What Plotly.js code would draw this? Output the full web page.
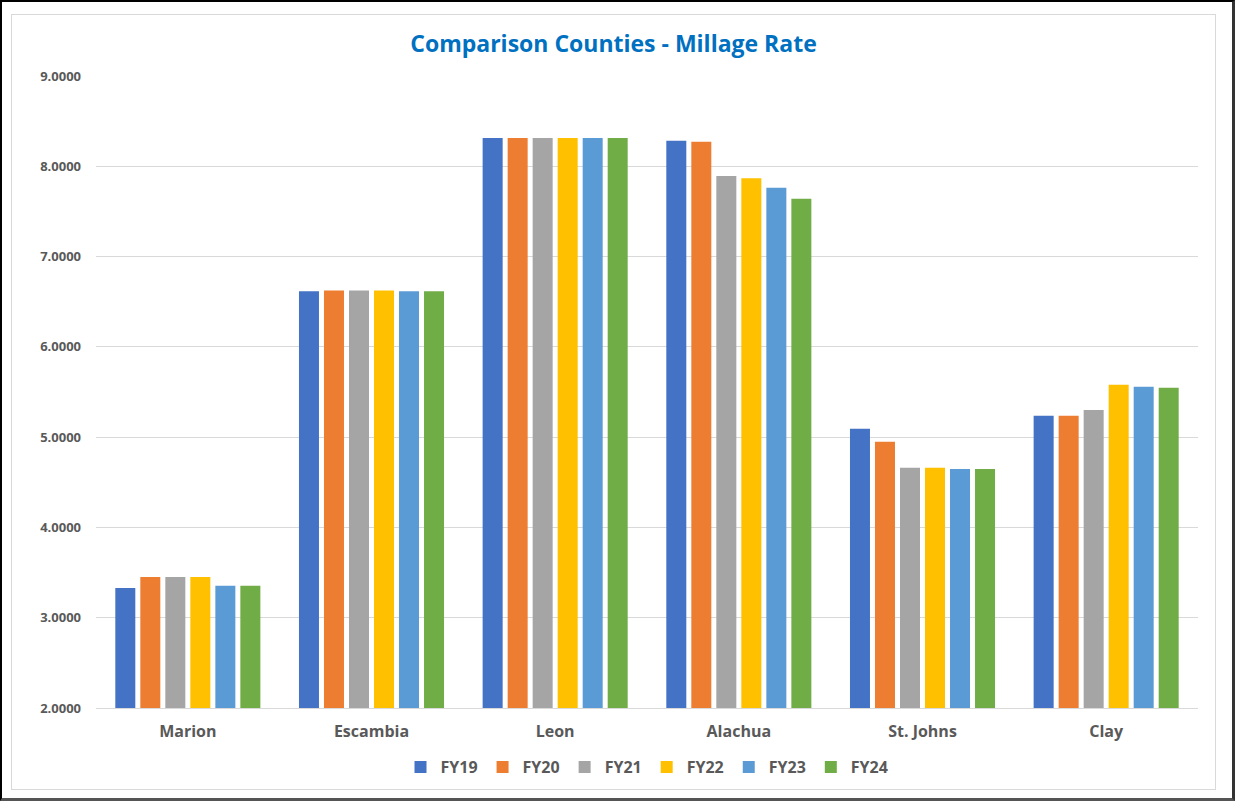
<!DOCTYPE html>
<html>
<head>
<meta charset="utf-8">
<script src="https://cdn.plot.ly/plotly-3.0.1.min.js"></script>
<style>
html, body { margin: 0; padding: 0; background: #ffffff; }
#frame { position: absolute; left: 0; top: 0; width: 1235px; height: 801px; box-sizing: border-box;
  border-top: 2px solid #000; border-left: 2px solid #000; border-right: 3px solid #333; border-bottom: 3px solid #555; background: #fff; }
#inner { position: absolute; left: 11px; top: 14px; width: 1205px; height: 776px; box-sizing: border-box; border: 1px solid #d9d9d9; }
#chart { position: absolute; left: 12px; top: 15px; width: 1203px; height: 774px; }
</style>
</head>
<body>
<div id="frame"></div>
<div id="inner"></div>
<div id="chart"></div>
<script>
const counties = ["Marion", "Escambia", "Leon", "Alachua", "St. Johns", "Clay"];
const seriesNames = ["FY19", "FY20", "FY21", "FY22", "FY23", "FY24"];
const fy19 = [3.3290, 6.6165, 8.3144, 8.2829, 5.0920, 5.2360];
const fy20 = [3.4520, 6.6255, 8.3144, 8.2729, 4.9480, 5.2360];
const fy21 = [3.4520, 6.6255, 8.3144, 7.8935, 4.6600, 5.3020];
const fy22 = [3.4520, 6.6255, 8.3144, 7.8662, 4.6600, 5.5790];
const fy23 = [3.3550, 6.6165, 8.3144, 7.7620, 4.6480, 5.5570];
const fy24 = [3.3550, 6.6165, 8.3144, 7.6414, 4.6480, 5.5460];
const seriesValues = [fy19, fy20, fy21, fy22, fy23, fy24];
const colors = ["#4472C4", "#ED7D31", "#A5A5A5", "#FFC000", "#5B9BD5", "#70AD47"];

const traces = seriesNames.map((name, i) => ({
  type: "bar",
  name: name,
  x: counties,
  y: seriesValues[i],
  marker: { color: colors[i] },
  hoverinfo: "x+y+name"
}));

const layout = {
  width: 1203,
  height: 774,
  paper_bgcolor: "rgba(0,0,0,0)",
  plot_bgcolor: "rgba(0,0,0,0)",
  margin: { l: 84, r: 17, t: 61, b: 81, pad: 0, autoexpand: false },
  title: {
    text: "Comparison Counties - Millage Rate",
    font: { family: "'Open Sans', sans-serif", size: 23, color: "#0070C0", weight: "bold" },
    x: 0.5, xanchor: "center", y: 0.962, yanchor: "middle"
  },
  barmode: "group",
  bargap: 0.183,
  bargroupgap: 0.2,
  xaxis: {
    type: "category",
    showgrid: false,
    showline: true,
    linecolor: "#d9d9d9",
    linewidth: 1,
    ticks: "",
    tickfont: { family: "'Open Sans', sans-serif", size: 16, color: "#595959", weight: "bold" },
    ticklabelstandoff: 9,
    automargin: false
  },
  yaxis: {
    range: [2, 9],
    dtick: 1,
    tick0: 2,
    tickformat: ".4f",
    showgrid: true,
    gridcolor: "#d9d9d9",
    gridwidth: 1,
    zeroline: false,
    showline: false,
    ticks: "",
    tickfont: { family: "'Open Sans', sans-serif", size: 13, color: "#595959", weight: "bold" },
    ticklabelstandoff: 14,
    automargin: false
  },
  legend: {
    orientation: "h",
    x: 0.5, xanchor: "center",
    y: -0.0937, yanchor: "middle",
    font: { family: "'Open Sans', sans-serif", size: 16, color: "#595959", weight: "bold" },
    itemclick: false,
    traceorder: "normal"
  },
  showlegend: true
};

Plotly.newPlot("chart", traces, layout, { displayModeBar: false, staticPlot: true });
</script>
</body>
</html>
